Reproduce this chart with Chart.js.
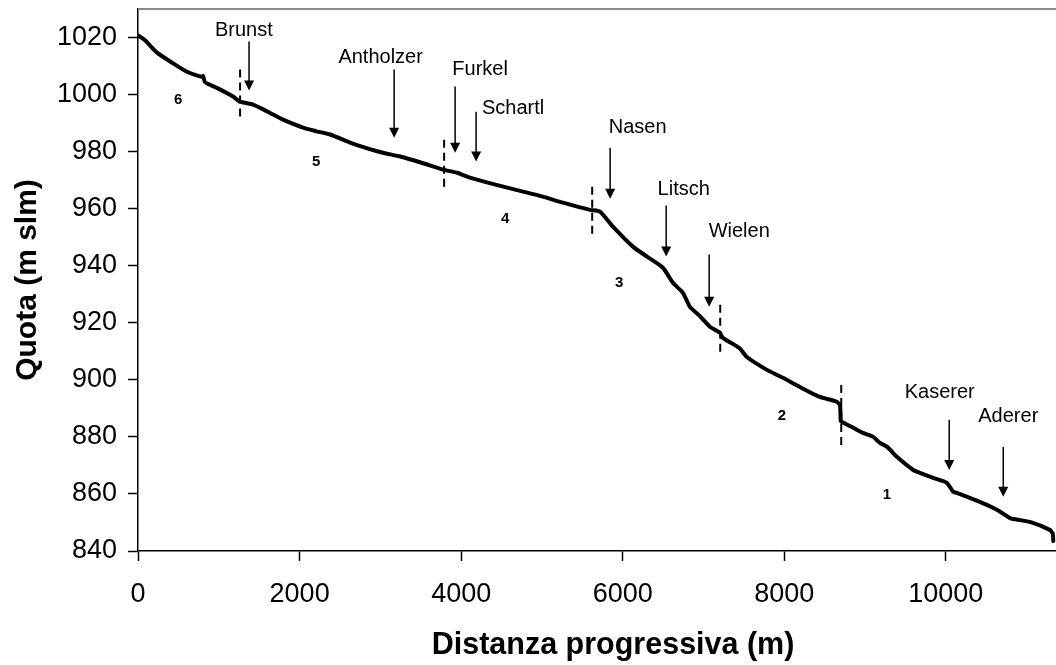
<!DOCTYPE html>
<html>
<head>
<meta charset="utf-8">
<script src="https://cdn.jsdelivr.net/npm/chart.js@4.4.1/dist/chart.umd.min.js"></script>
<style>
  html, body { margin: 0; padding: 0; background: #fff; overflow: hidden; }
  #wrap { width: 1090px; height: 665px; }
</style>
</head>
<body>
<div id="wrap"><canvas id="myChart_Profilo"></canvas></div>
<script>
// profilo longitudinale: distanza progressiva (m) e quota (m slm)
const distanza = [0, 80, 235, 420, 606, 790, 805, 830, 1000, 1176, 1262, 1423, 1550, 1671, 1795, 2042, 2200, 2376, 2624, 2800,
  3032, 3243, 3500, 3775, 3948, 4109, 4400, 4765, 5000, 5260, 5594, 5718, 5879, 6126, 6300, 6498, 6621, 6745, 6832, 6950,
  7079, 7203, 7240, 7450, 7537, 7785, 7983, 8192, 8440, 8651, 8690, 8700, 8730, 8854, 8973, 9101, 9183, 9274, 9394, 9596,
  9678, 9843, 10012, 10092, 10136, 10421, 10636, 10792, 10835, 11040, 11287, 11324, 11330];
const quota = [1020.7, 1019.2, 1014.7, 1011.2, 1008.0, 1006.2, 1006.5, 1004.3, 1002.0, 999.3, 997.5, 996.5, 994.8, 993.0, 991.2, 988.4, 987.2, 986.0, 983.2, 981.5,
  979.6, 978.3, 976.2, 973.7, 972.6, 970.9, 968.6, 966.0, 964.3, 962.1, 959.6, 959.0, 953.7, 946.7, 943.2, 939.3, 934.0, 930.5, 925.6, 922.5,
  918.6, 916.5, 914.7, 911.0, 908.0, 903.5, 900.7, 897.5, 894.0, 892.3, 891.0, 885.5, 885.0, 883.2, 881.4, 880.0, 877.9, 876.5, 873.0, 868.4,
  867.4, 865.6, 863.9, 860.7, 860.4, 857.2, 854.4, 851.6, 851.2, 850.2, 847.4, 846.0, 843.5];

const xTicks = [0, 2000, 4000, 6000, 8000, 10000];
const yTicks = [840, 860, 880, 900, 920, 940, 960, 980, 1000, 1020];

// localita' con freccia
const nomi = ["Brunst", "Antholzer", "Furkel", "Schartl", "Nasen", "Litsch", "Wielen", "Kaserer", "Aderer"];
const nomeX = [1310, 3003, 4235, 4643, 6185, 6755, 7442, 9924, 10773];
const nomeY = [1020.7, 1011.1, 1007.0, 993.3, 986.7, 964.9, 950.2, 893.7, 885.3];
const frecciaX = [1374, 3170, 3925, 4185, 5844, 6538, 7070, 10042, 10711];
const frecciaDa = [1018.6, 1008.8, 1002.8, 994.0, 981.4, 961.1, 943.9, 886.0, 876.5];
const frecciaA = [1001.4, 984.9, 979.6, 976.5, 963.5, 943.2, 925.6, 868.4, 859.0];

// limiti dei tratti (tratteggio)
const limiteX = [1263, 3789, 5622, 7207, 8705];
const limiteDa = [1008.8, 984.2, 967.7, 926.3, 898.2];
const limiteA = [991.9, 966.7, 950.2, 908.4, 876.5];

// numero del tratto
const tratti = ["6", "5", "4", "3", "2", "1"];
const trattoX = [495, 2204, 4544, 5956, 7970, 9270];
const trattoY = [998.2, 976.5, 956.5, 934.0, 887.4, 859.6];

const FONT = '"Liberation Sans", Arial, sans-serif';

const annotazioni = {
  id: "annotazioni",
  beforeDatasetsDraw(chart) {
    const { ctx, chartArea } = chart;
    ctx.save();
    ctx.strokeStyle = "#888";
    ctx.lineWidth = 2;
    ctx.beginPath();
    ctx.moveTo(chartArea.left, chartArea.top);
    ctx.lineTo(chartArea.right, chartArea.top);
    ctx.stroke();
    ctx.restore();
  },
  afterDatasetsDraw(chart) {
    const { ctx, scales: { x, y } } = chart;
    ctx.save();
    ctx.strokeStyle = "#000";
    ctx.fillStyle = "#000";

    // frecce + nomi
    ctx.lineWidth = 1.5;
    ctx.font = "20px " + FONT;
    ctx.textAlign = "center";
    ctx.textBaseline = "alphabetic";
    nomi.forEach((nome, i) => {
      const px = x.getPixelForValue(frecciaX[i]);
      const y0 = y.getPixelForValue(frecciaDa[i]);
      const y1 = y.getPixelForValue(frecciaA[i]);
      ctx.beginPath();
      ctx.moveTo(px, y0);
      ctx.lineTo(px, y1 - 8);
      ctx.stroke();
      ctx.beginPath();
      ctx.moveTo(px - 5, y1 - 10);
      ctx.lineTo(px + 5, y1 - 10);
      ctx.lineTo(px, y1);
      ctx.closePath();
      ctx.fill();
      ctx.fillText(nome, x.getPixelForValue(nomeX[i]), y.getPixelForValue(nomeY[i]));
    });

    // tratteggi
    ctx.lineWidth = 2;
    ctx.setLineDash([8, 5]);
    limiteX.forEach((v, i) => {
      const px = x.getPixelForValue(v);
      ctx.beginPath();
      ctx.moveTo(px, y.getPixelForValue(limiteDa[i]));
      ctx.lineTo(px, y.getPixelForValue(limiteA[i]));
      ctx.stroke();
    });
    ctx.setLineDash([]);

    // numeri dei tratti
    ctx.font = "bold 15px " + FONT;
    ctx.textBaseline = "middle";
    tratti.forEach((t, i) => {
      ctx.fillText(t, x.getPixelForValue(trattoX[i]), y.getPixelForValue(trattoY[i]));
    });
    ctx.restore();
  }
};

const pintarProfilo = () => {
  new Chart(document.getElementById("myChart_Profilo"), {
    type: "scatter",
    data: {
      datasets: [{
        data: distanza.map((d, i) => ({ x: d, y: quota[i] })),
        showLine: true,
        borderColor: "#000",
        borderWidth: 4,
        borderJoinStyle: "round",
        borderCapStyle: "round",
        pointRadius: 0,
        tension: 0.2,
      }],
    },
    options: {
      responsive: true,
      maintainAspectRatio: false,
      animation: false,
      layout: { padding: { top: 9, right: 2, left: 0, bottom: 0 } },
      plugins: { legend: { display: false }, tooltip: { enabled: false } },
      scales: {
        x: {
          type: "linear",
          min: 0,
          max: 11760,
          afterBuildTicks: (s) => { s.ticks = xTicks.map((v) => ({ value: v })); },
          grid: { drawOnChartArea: false, drawTicks: true, tickLength: 10, tickColor: "#000", tickWidth: 1.5 },
          border: { display: true, color: "#000", width: 1.5 },
          ticks: { font: { family: FONT, size: 27 }, color: "#000", padding: 17, maxRotation: 0, callback: (v) => String(v) },
          title: { display: true, text: "Distanza progressiva (m)", color: "#000",
                   font: { family: FONT, size: 30.5, weight: "bold" }, padding: { top: 0, bottom: 1 } },
        },
        y: {
          min: 840,
          max: 1030,
          afterBuildTicks: (s) => { s.ticks = yTicks.map((v) => ({ value: v })); },
          afterFit: (s) => { s.paddingTop = 0; s.paddingBottom = 0; },
          grid: { drawOnChartArea: false, drawTicks: true, tickLength: 10, tickColor: "#000", tickWidth: 1.5 },
          border: { display: true, color: "#000", width: 1.5 },
          ticks: { font: { family: FONT, size: 27 }, color: "#000", padding: 11, callback: (v) => String(v) },
          title: { display: true, text: "Quota (m slm)", color: "#000",
                   font: { family: FONT, size: 30, weight: "bold" }, padding: { top: 10, bottom: 0 } },
        },
      },
    },
    plugins: [annotazioni],
  });
};

window.addEventListener("load", pintarProfilo);
</script>
</body>
</html>
